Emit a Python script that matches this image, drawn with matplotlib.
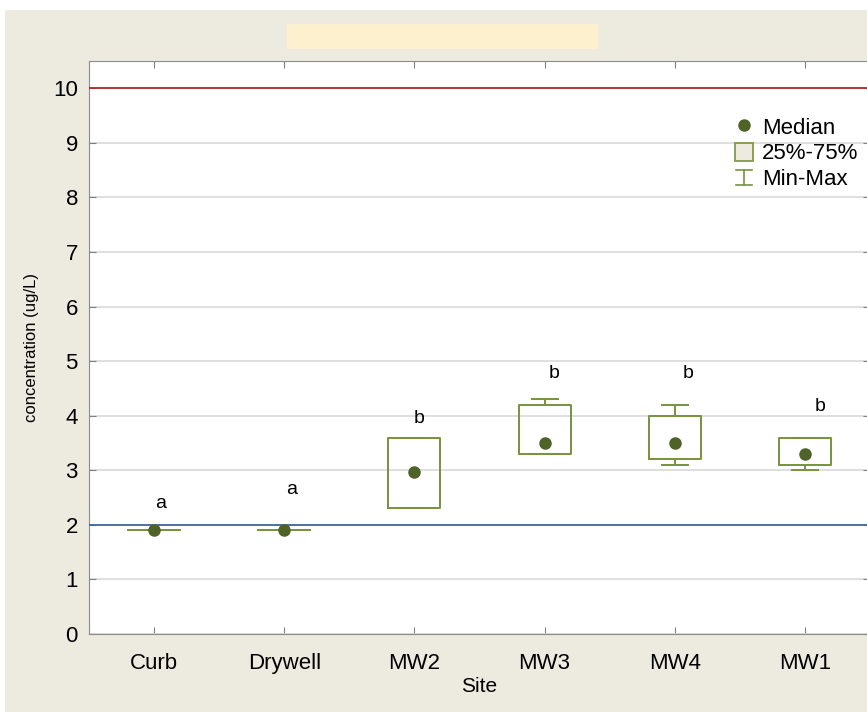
"""
Box plot of concentration by site, with median dots and reference lines
"""

import matplotlib.pyplot as plt
from matplotlib.patches import Rectangle, Patch
from matplotlib.lines import Line2D
from matplotlib.legend_handler import HandlerBase

sites = ['Curb', 'Drywell', 'MW2', 'MW3', 'MW4', 'MW1']
medians = [1.9, 1.9, 2.97, 3.5, 3.5, 3.3]
q1 = [1.9, 1.9, 2.3, 3.3, 3.2, 3.1]
q3 = [1.9, 1.9, 3.6, 4.2, 4.0, 3.6]
mins = [1.9, 1.9, 2.3, 3.3, 3.1, 3.0]
maxs = [1.9, 1.9, 3.6, 4.3, 4.2, 3.6]

group_letters = ['a', 'a', 'b', 'b', 'b', 'b']
letter_x = [1.05, 2.06, 3.04, 4.07, 5.1, 6.12]
letter_y = [2.4, 2.64, 3.95, 4.77, 4.77, 4.17]

upper_limit = 10
lower_limit = 2

BOX_COLOR = '#77933C'
DOT_COLOR = '#4F6228'
BG = '#EDEADF'
FONT = ['Liberation Sans Narrow', 'Liberation Sans', 'DejaVu Sans']


class WhiskerHandler(HandlerBase):
    """Draw an I-shaped min-max symbol in the legend."""

    def create_artists(self, legend, orig_handle, xdescent, ydescent,
                       width, height, fontsize, trans):
        cx = width / 2 - xdescent
        cy = height / 2 - ydescent
        half = width * 0.45
        y0, y1 = cy - height * 0.42, cy + height * 0.42
        kw = dict(color=BOX_COLOR, lw=1.2, transform=trans)
        return [Line2D([cx, cx], [y0, y1], **kw),
                Line2D([cx - half, cx + half], [y0, y0], **kw),
                Line2D([cx - half, cx + half], [y1, y1], **kw)]


plt.rcParams['font.family'] = FONT

fig = plt.figure(figsize=(8.67, 7.12), dpi=100)
fig.patch.set_facecolor('white')
fig.patches.append(Rectangle((5 / 867, 0), 1, 1 - 10 / 712, transform=fig.transFigure,
                             facecolor=BG, edgecolor='none', zorder=-10))
# empty title box
fig.patches.append(Rectangle((287 / 867, 1 - 49 / 712), 311 / 867, 25 / 712,
                             transform=fig.transFigure, facecolor='#FDF0CF',
                             edgecolor='none', zorder=-5))

ax = fig.add_axes([89 / 867, 1 - 634 / 712, 781 / 867, 573 / 712])
ax.set_facecolor('white')

stats = []
for i in range(len(sites)):
    stats.append(dict(med=medians[i], q1=q1[i], q3=q3[i],
                      whislo=mins[i], whishi=maxs[i], fliers=[]))

ax.bxp(stats, positions=range(1, len(sites) + 1), widths=0.4, capwidths=0.2,
       showfliers=False,
       boxprops=dict(color=BOX_COLOR, lw=1.4),
       whiskerprops=dict(color=BOX_COLOR, lw=1.4),
       capprops=dict(color=BOX_COLOR, lw=1.4),
       medianprops=dict(visible=False))
ax.plot(range(1, len(sites) + 1), medians, 'o', color=DOT_COLOR,
        markersize=8, zorder=5)

for x, y, s in zip(letter_x, letter_y, group_letters):
    ax.text(x, y, s, ha='center', va='center', fontsize=14, family=['Liberation Sans'])

ax.axhline(upper_limit, color='#B8282B', lw=1.3, zorder=3)
ax.axhline(lower_limit, color='#3A6A9E', lw=1.3, zorder=3)

ax.set_xlim(0.5, 6.5)
ax.set_ylim(0, 10.5)
ax.set_yticks(range(0, 11))
ax.set_xticks(range(1, len(sites) + 1))
ax.set_xticklabels(sites)
ax.yaxis.grid(True, color='#D9D9D9', lw=1.2)
ax.set_axisbelow(True)

ax.tick_params(axis='both', direction='in', colors='#808080', labelcolor='black',
               labelsize=16, top=True, right=True, length=5)
ax.tick_params(axis='x', pad=14)
ax.tick_params(axis='y', pad=8)
for sp in ax.spines.values():
    sp.set_color('#8C8C8C')

ax.set_xlabel('Site', fontsize=15, labelpad=2)
ax.set_ylabel('concentration (ug/L)', fontsize=12, family=['Liberation Sans'], labelpad=10)

handles = [Line2D([0], [0], marker='o', color='none', markerfacecolor=DOT_COLOR,
                  markeredgecolor=DOT_COLOR, markersize=8),
           Patch(facecolor=BG, edgecolor=BOX_COLOR, lw=1.2),
           Line2D([0], [0])]
ax.legend(handles, ['Median', '25%-75%', 'Min-Max'],
          handler_map={handles[2]: WhiskerHandler()},
          loc='upper right', bbox_to_anchor=(1.005, 0.93), frameon=False,
          fontsize=16, handlelength=0.8, handleheight=0.9, handletextpad=0.4,
          labelspacing=0.18, borderaxespad=0.3)

fig.savefig('out.png', dpi=100)
